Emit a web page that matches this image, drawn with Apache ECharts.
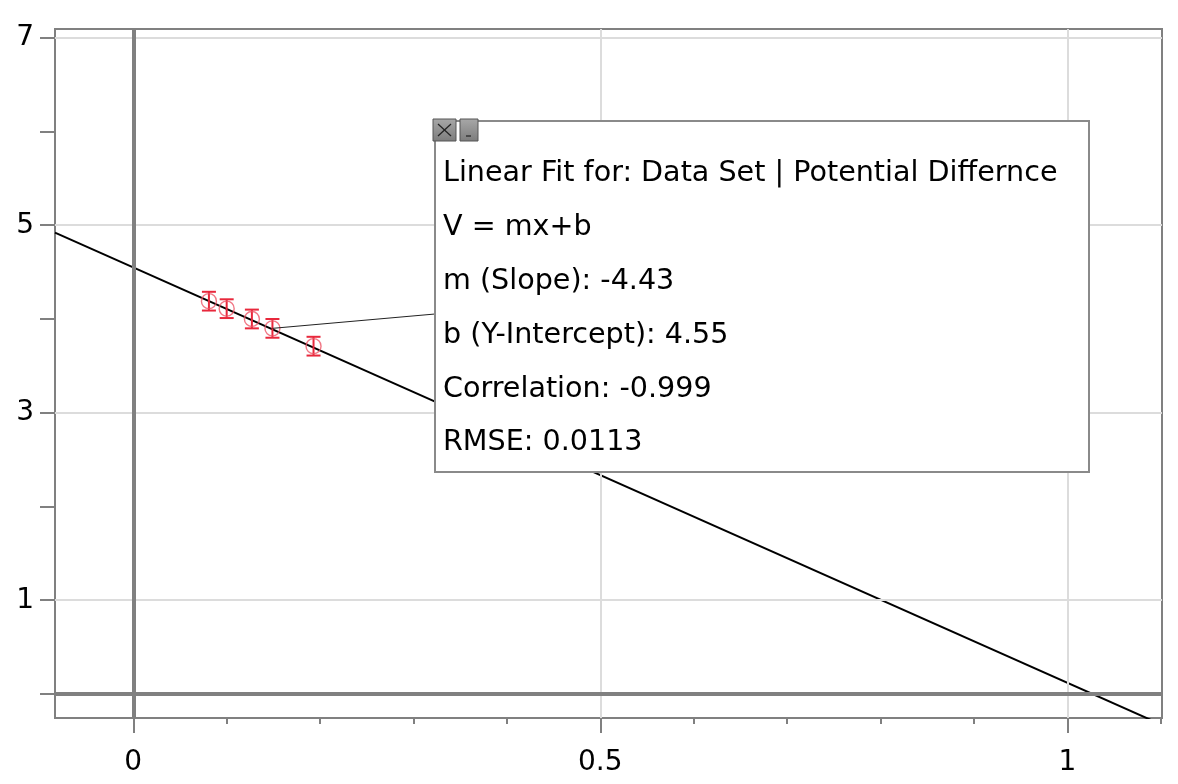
<!DOCTYPE html>
<html><head><meta charset="utf-8">
<script src="https://cdn.jsdelivr.net/npm/echarts@6/dist/echarts.min.js"></script>
<style>html,body{margin:0;padding:0;background:#fff}#c{width:1178px;height:784px}</style>
</head><body><div id="c"></div>
<script>
// ---- data ----
const xValues = [0.081, 0.100, 0.127, 0.149, 0.193];
const vValues = [4.19, 4.11, 4.00, 3.90, 3.71];
const vErrors = [0.10, 0.10, 0.10, 0.10, 0.10];
const slope = -4.43;
const intercept = 4.55;
const fitX = [-0.0838, 1.1014];
const xMajorTicks = [0, 0.5, 1];
const xMinorTicks = [0.1, 0.2, 0.3, 0.4, 0.6, 0.7, 0.8, 0.9, 1.1];
const yTicks = [0, 1, 2, 3, 4, 5, 6, 7];
const yLabels = [1, 3, 5, 7];
const xGridLines = [0.5, 1];
const yGridLines = [1, 3, 5, 7];
const fitText = [
  'Linear Fit for: Data Set | Potential Differnce',
  'V = mx+b',
  'm (Slope): -4.43',
  'b (Y-Intercept): 4.55',
  'Correlation: -0.999',
  'RMSE: 0.0113'
];
const linkedPoint = 3;

// ---- chart ----
const FONT = 'DejaVu Sans, sans-serif';
const RED = '#e8283c';
const AX = '#808080';
const chart = echarts.init(document.getElementById('c'));
const pts = xValues.map((x, i) => [x, vValues[i], vErrors[i]]);
const fitData = fitX.map(x => [x, slope * x + intercept]);

const xBase = {
  type: 'value', min: -0.0838, max: 1.1014, position: 'bottom',
  splitLine: { show: false }
};
chart.setOption({
  animation: false,
  grid: { left: 55, right: 16, top: 29, bottom: 66, show: true,
          borderColor: AX, borderWidth: 2, backgroundColor: '#fff' },
  xAxis: [
    Object.assign({}, xBase, {
      axisLine: { show: true, onZero: false, lineStyle: { color: AX, width: 2 } },
      axisTick: { show: true, customValues: xMinorTicks, length: 6, lineStyle: { color: AX, width: 2 } },
      axisLabel: { show: false }
    }),
    Object.assign({}, xBase, {
      axisLine: { show: false, onZero: false },
      axisTick: { show: true, customValues: xMajorTicks, length: 15, lineStyle: { color: AX, width: 2 } },
      axisLabel: { show: true, customValues: xMajorTicks, margin: 31, fontSize: 28,
                   color: '#000', fontFamily: FONT }
    })
  ],
  yAxis: {
    type: 'value', min: -0.256, max: 7.093, position: 'left',
    splitLine: { show: false },
    axisLine: { show: true, onZero: false, lineStyle: { color: AX, width: 2 } },
    axisTick: { show: true, customValues: yTicks, length: 15, lineStyle: { color: AX, width: 2 } },
    axisLabel: { show: true, customValues: yLabels, margin: 21, fontSize: 28,
                 color: '#000', fontFamily: FONT }
  },
  series: [
    { type: 'line', data: [], z: 1, silent: true,
      markLine: { silent: true, symbol: ['none', 'none'], label: { show: false },
        lineStyle: { color: '#dcdcdc', width: 2, type: 'solid' },
        data: xGridLines.map(v => ({ xAxis: v })).concat(yGridLines.map(v => ({ yAxis: v }))) } },
    { type: 'line', data: [], z: 2, silent: true,
      markLine: { silent: true, symbol: ['none', 'none'], label: { show: false },
        lineStyle: { color: AX, width: 4, type: 'solid' },
        data: [{ xAxis: 0 }, { yAxis: 0 }] } },
    { type: 'line', data: fitData, z: 3, symbol: 'none', clip: true, silent: true,
      lineStyle: { color: '#000', width: 2 } },
    { type: 'custom', data: pts, z: 4, silent: true,
      renderItem: function (params, api) {
        const x = api.value(0), y = api.value(1), e = api.value(2);
        const t = api.coord([x, y + e]), b = api.coord([x, y - e]);
        const hw = 7;
        const st = { stroke: RED, lineWidth: 2 };
        return { type: 'group', children: [
          { type: 'line', shape: { x1: t[0], y1: t[1], x2: b[0], y2: b[1] }, style: st },
          { type: 'line', shape: { x1: t[0] - hw, y1: t[1], x2: t[0] + hw, y2: t[1] }, style: st },
          { type: 'line', shape: { x1: b[0] - hw, y1: b[1], x2: b[0] + hw, y2: b[1] }, style: st }
        ] };
      } },
    { type: 'scatter', data: pts.map(p => [p[0], p[1]]), z: 5, symbol: 'circle', symbolSize: 15, silent: true,
      itemStyle: { color: 'rgba(0,0,0,0)', borderColor: '#ee5566', borderWidth: 1.4 } }
  ]
});

// ---- annotation box ----
const lp = chart.convertToPixel({ xAxisIndex: 0, yAxisIndex: 0 }, [xValues[linkedPoint], vValues[linkedPoint]]);
const boxL = 435, boxT = 121, boxW = 654, boxH = 351;
const gfx = [
  { type: 'line', z: 100, shape: { x1: lp[0], y1: lp[1], x2: boxL, y2: 314 },
    style: { stroke: '#222', lineWidth: 1 } },
  { type: 'rect', z: 101, shape: { x: boxL, y: boxT, width: boxW, height: boxH },
    style: { fill: '#fff', stroke: '#8a8a8a', lineWidth: 2 } }
];
fitText.forEach((t, i) => {
  gfx.push({ type: 'text', z: 102, x: 443, y: 174 + i * 53.8,
    style: { text: t, fontSize: 28.6, fontFamily: FONT, fill: '#000',
             textAlign: 'left', textVerticalAlign: 'middle' } });
});
const btnFill = new echarts.graphic.LinearGradient(0, 0, 0, 1, [
  { offset: 0, color: '#a8a8a8' }, { offset: 1, color: '#7c7c7c' }]);
gfx.push(
  { type: 'rect', z: 103, shape: { x: 433, y: 119, width: 23, height: 22 },
    style: { fill: btnFill, stroke: '#555', lineWidth: 1 } },
  { type: 'line', z: 104, shape: { x1: 438, y1: 124, x2: 451, y2: 136 }, style: { stroke: '#222', lineWidth: 1.2 } },
  { type: 'line', z: 104, shape: { x1: 451, y1: 124, x2: 438, y2: 136 }, style: { stroke: '#222', lineWidth: 1.2 } },
  { type: 'rect', z: 103, shape: { x: 460, y: 119, width: 18, height: 22 },
    style: { fill: btnFill, stroke: '#555', lineWidth: 1 } },
  { type: 'line', z: 104, shape: { x1: 466, y1: 136, x2: 471, y2: 136 }, style: { stroke: '#222', lineWidth: 1.2 } }
);
chart.setOption({ graphic: gfx });
</script>
</body></html>
